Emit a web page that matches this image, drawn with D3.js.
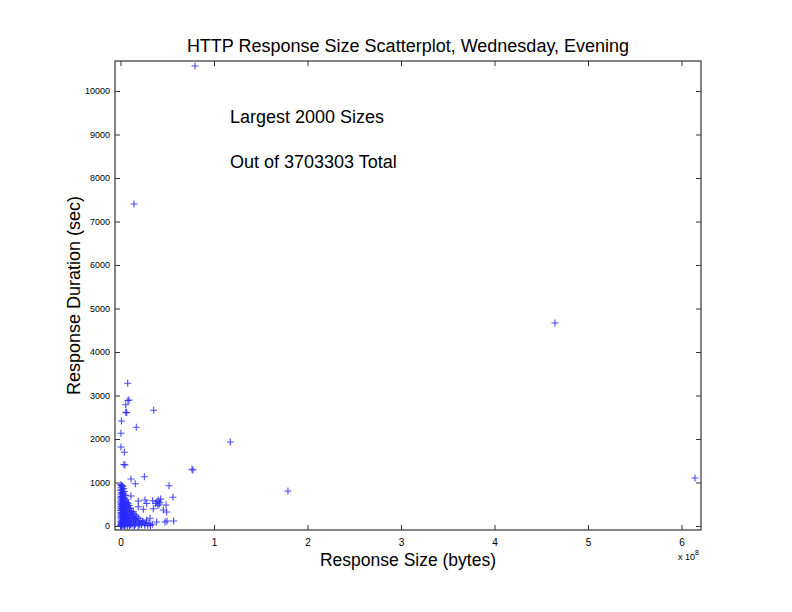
<!DOCTYPE html>
<html><head><meta charset="utf-8">
<script src="https://cdn.jsdelivr.net/npm/d3@7"></script>
<style>
body{margin:0;background:#fff}
text{font-family:"Liberation Sans",Arial,Helvetica,sans-serif;fill:#000}
</style>
</head><body>
<svg id="chart" width="792" height="612"></svg>
<script>
// Response size (bytes), response duration (sec)
const responsePoints = [
  [7.97e7,10575],[1.44e7,7403],[4.647e8,4667],[6.144e8,1103],
  [7.7e6,3281],[9.1e6,2897],[8.0e6,2885],[5.6e6,2789],[5.7e6,2616],[6.6e6,2607],
  [3.55e7,2660],[1.0e6,2414],[1.69e7,2269],[0.5e6,2131],[0.5e6,1816],[4.1e6,1694],
  [3.7e6,1414],[4.8e6,1402],[1.174e8,1931],[7.65e7,1303],[7.75e7,1287],[1.791e8,805],
  [1.12e7,1081],[2.55e7,1133],[1.58e7,972],[5.19e7,926],[5.61e7,660],[2.4e6,920],
  [1.12e7,690],[1.90e7,575],[2.62e7,598],[3.44e7,582],[4.04e7,598],[4.22e7,545],
  [4.15e7,506],[3.51e7,398],[4.58e7,368],[4.94e7,322],[2.44e7,384],[2.80e7,138],
  [3.87e7,92],[4.76e7,92],[2.27e7,62],[4.87e7,483],[4.97e7,115],[5.69e7,115],
  [3.9e7,560],[4.3e7,620],[4.0e7,470],[2.80e7,518],[3.76e7,518],[1.90e7,444],
  [1.37e7,329],[3.16e7,177],[1.55e7,177],[1.02e7,23],
  [0.3e6,950],[1.1e6,930],[2.0e6,905],[0.6e6,880],[3.1e6,860],[1.5e6,845],[0.2e6,820],
  [2.6e6,800],[4.0e6,790],[0.9e6,770],[1.8e6,750],[3.5e6,735],[0.4e6,720],[5.2e6,705],
  [2.2e6,690],[1.2e6,675],[0.1e6,660],[3.0e6,650],[4.6e6,640],[0.7e6,625],[2.5e6,610],
  [6.0e6,600],[1.6e6,595],[3.8e6,585],
  [0.5e6,575],[2.9e6,565],[5.5e6,555],[1.3e6,545],[7.2e6,540],[0.2e6,530],[4.3e6,525],
  [2.0e6,515],[8.5e6,510],[3.4e6,500],[0.8e6,495],[6.3e6,485],[1.7e6,475],[9.4e6,470],
  [4.9e6,460],[0.3e6,455],[2.7e6,445],[7.8e6,440],[1.0e6,430],[5.8e6,425],[3.6e6,415],
  [10.5e6,410],[0.6e6,400],[2.3e6,395],[8.9e6,385],[4.5e6,380],[1.4e6,370],[6.7e6,360],
  [0.1e6,355],[3.2e6,345],[11.6e6,340],[5.1e6,335],[2.1e6,325],[9.8e6,320],[0.7e6,310],
  [7.4e6,305],[4.0e6,300],
  [1.5e6,295],[13.0e6,290],[2.8e6,285],[6.0e6,280],[0.4e6,272],[10.2e6,268],[4.7e6,262],
  [15.5e6,258],[1.9e6,252],[8.3e6,248],[3.3e6,242],[0.9e6,236],[12.4e6,232],[5.6e6,228],
  [17.1e6,222],[2.4e6,218],[7.0e6,212],[0.2e6,206],[9.9e6,202],[14.2e6,196],[3.9e6,192],
  [1.2e6,186],[6.5e6,180],[19.0e6,176],[11.3e6,170],[4.4e6,165],[0.6e6,160],[8.8e6,155],
  [2.6e6,150],[16.4e6,146],[5.3e6,140],[13.6e6,135],[1.7e6,130],[21.0e6,126],[7.7e6,122],
  [3.0e6,117],[10.8e6,112],[0.3e6,108],[18.2e6,104],[5.9e6,100],
  [2.2e6,96],[24.0e6,92],[9.2e6,88],[14.8e6,84],[0.8e6,80],[4.1e6,76],[27.5e6,72],
  [12.0e6,68],[6.8e6,64],[19.8e6,60],[1.4e6,56],[30.5e6,52],[8.0e6,48],[3.5e6,44],
  [16.0e6,40],[11.0e6,36],[0.5e6,32],[22.5e6,28],[5.0e6,24],[26.0e6,20],[13.3e6,16],
  [2.7e6,12],[7.3e6,8],[18.9e6,5],[0.1e6,3],[32.0e6,10],[9.6e6,2],[4.6e6,1],[15.0e6,6],
  [1.1e6,14],[20.5e6,30],[29.0e6,18],[34.0e6,40],[23.5e6,110],[25.8e6,50],[2.0e6,40],
  [6.2e6,55],[1.0e6,70],[3.7e6,20]
];
const xTickValues = [0,1e8,2e8,3e8,4e8,5e8,6e8];
const yTickValues = [0,1000,2000,3000,4000,5000,6000,7000,8000,9000,10000];
const titleText = "HTTP Response Size Scatterplot, Wednesday, Evening";
const xLabelText = "Response Size (bytes)";
const yLabelText = "Response Duration (sec)";
const notes = [{text:"Largest 2000 Sizes", x:1.17e8, y:9400},{text:"Out of 3703303 Total", x:1.17e8, y:8370}];

const svg = d3.select("#chart");
const L=115, R=701, T=61, B=530;
const x = d3.scaleLinear().domain([-5.88e6, 6.2086e8]).range([L, R]);
const y = d3.scaleLinear().domain([-92, 10690]).range([B, T]);

svg.append("rect").attr("width",792).attr("height",612).attr("fill","#fff");

const axColor = "#333";
function styleAxis(g){
  g.select(".domain").remove();
  g.selectAll(".tick line").attr("stroke",axColor);
}
svg.append("g").attr("transform",`translate(0,${B})`)
  .call(d3.axisBottom(x).tickValues(xTickValues).tickFormat(d=>d/1e8).tickSize(-5).tickPadding(9))
  .call(styleAxis)
  .call(g=>g.selectAll("text").attr("font-size",10).attr("font-family","Liberation Sans, Arial, sans-serif"));
svg.append("g").attr("transform",`translate(0,${T})`)
  .call(d3.axisTop(x).tickValues(xTickValues).tickFormat("").tickSize(-5))
  .call(styleAxis);
svg.append("g").attr("transform",`translate(${L},0)`)
  .call(d3.axisLeft(y).tickValues(yTickValues).tickFormat(d3.format("d")).tickSize(-5).tickPadding(5))
  .call(styleAxis)
  .call(g=>g.selectAll("text").attr("font-size",9).attr("font-family","Liberation Sans, Arial, sans-serif"));
svg.append("g").attr("transform",`translate(${R},0)`)
  .call(d3.axisRight(y).tickValues(yTickValues).tickFormat("").tickSize(-5))
  .call(styleAxis);

svg.append("rect").attr("x",L).attr("y",T).attr("width",R-L).attr("height",B-T)
  .attr("fill","none").attr("stroke",axColor).attr("stroke-width",1.2);

const h = 3.5;
svg.append("g").selectAll("path").data(responsePoints).join("path")
  .attr("d", d=>{const cx=x(d[0]), cy=y(d[1]);
    return `M${cx-h},${cy}H${cx+h}M${cx},${cy-h}V${cy+h}`;})
  .attr("stroke","#2a2aff").attr("stroke-width",1.1).attr("stroke-opacity",0.85).attr("fill","none");

svg.append("text").attr("x",(L+R)/2).attr("y",52).attr("text-anchor","middle")
  .attr("font-size",18).text(titleText);
svg.append("text").attr("x",(L+R)/2).attr("y",566).attr("text-anchor","middle")
  .attr("font-size",17.5).text(xLabelText);
svg.append("text").attr("transform",`translate(80,${(T+B)/2}) rotate(-90)`).attr("text-anchor","middle")
  .attr("font-size",18).text(yLabelText);
svg.selectAll("text.note").data(notes).join("text").attr("class","note")
  .attr("x",d=>x(d.x)).attr("y",d=>y(d.y)).attr("dy","0.35em").attr("font-size",18).text(d=>d.text);
const ex = svg.append("text").attr("x",678).attr("y",560).attr("font-size",9);
ex.append("tspan").text("x 10");
ex.append("tspan").attr("dy",-5).attr("font-size",7).text("8");
</script>
</body></html>
